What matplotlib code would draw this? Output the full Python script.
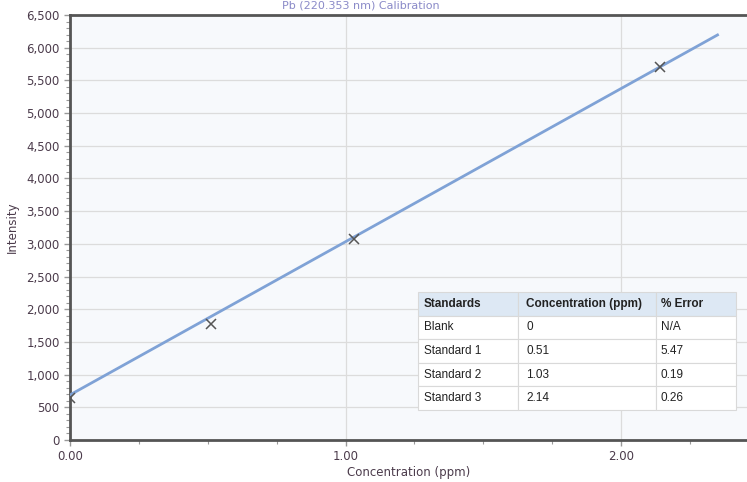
import matplotlib.pyplot as plt
from matplotlib.ticker import MultipleLocator, FuncFormatter

# calibration standards (measured points)
conc = [0.0, 0.51, 1.03, 2.14]
intensity = [650, 1775, 3075, 5705]

# fitted calibration line (end points)
fit_x = [0.0, 2.35]
fit_y = [690, 6195]

# table contents
col_labels = ["Standards", "Concentration (ppm)", "% Error"]
std_names = ["Blank", "Standard 1", "Standard 2", "Standard 3"]
std_conc = ["0", "0.51", "1.03", "2.14"]
std_err = ["N/A", "5.47", "0.19", "0.26"]

W, H = 747, 482
fig = plt.figure(figsize=(W / 100, H / 100), dpi=100)
ax = fig.add_axes([70 / W, (H - 440) / H, (W - 70) / W, (440 - 15) / H])
ax.set_facecolor("#f7f9fc")

label_col = "#4b3b4b"
ax.plot(fit_x, fit_y, color="#7fa2d6", lw=2, zorder=3)
ax.plot(conc, intensity, ls="none", marker="x", ms=7, mew=1.1,
        color="#555555", zorder=4)

ax.set_xlim(0, 2.457)
ax.set_ylim(0, 6500)
ax.xaxis.set_major_locator(MultipleLocator(1.0))
ax.xaxis.set_minor_locator(MultipleLocator(0.25))
ax.yaxis.set_major_locator(MultipleLocator(500))
ax.yaxis.set_minor_locator(MultipleLocator(100))
ax.xaxis.set_major_formatter(FuncFormatter(lambda v, p: "%.2f" % v))
ax.yaxis.set_major_formatter(FuncFormatter(lambda v, p: "{:,.0f}".format(v)))

ax.grid(True, which="major", color="#dcdcdc", lw=0.9, zorder=0)
ax.set_axisbelow(True)
for s in ["left", "bottom", "top"]:
    ax.spines[s].set_color("#555555")
    ax.spines[s].set_linewidth(2)
ax.spines["right"].set_visible(False)

ax.tick_params(which="both", direction="out", color="#999999",
               labelcolor=label_col, labelsize=8.5)
ax.tick_params(which="major", length=4, width=1)
ax.tick_params(which="minor", length=3, width=0.8)

ax.set_xlabel("Concentration (ppm)", fontsize=8.5, color=label_col, labelpad=2)
ax.set_ylabel("Intensity", fontsize=8.5, color=label_col, labelpad=5)

# small title above the plot area
fig.text(440 / W, 1 - 6 / H, "Pb (220.353 nm) Calibration", ha="right",
         va="center", fontsize=8, color="#8a8ac8")

# table
tax = fig.add_axes([418 / W, (H - 410) / H, (736 - 418) / W, (410 - 292) / H])
tax.axis("off")
rows = [[n, c, e] for n, c, e in zip(std_names, std_conc, std_err)]
tbl = tax.table(cellText=rows, colLabels=col_labels, bbox=[0, 0, 1, 1],
                colWidths=[100, 138, 80], cellLoc="left")
tbl.auto_set_font_size(False)
for (r, c), cell in tbl.get_celld().items():
    cell.set_edgecolor("#d9d9d9")
    cell.set_linewidth(0.8)
    cell.PAD = 0.06
    cell._loc = "left"
    txt = cell.get_text()
    txt.set_horizontalalignment("left")
    txt.set_fontsize(8.5)
    txt.set_color("#222222")
    txt.set_fontfamily(["Liberation Sans", "DejaVu Sans"])
    if r == 0:
        cell.set_facecolor("#dde8f4")
        txt.set_fontweight("bold")
    else:
        cell.set_facecolor("white")

fig.savefig("out.png", dpi=100)
